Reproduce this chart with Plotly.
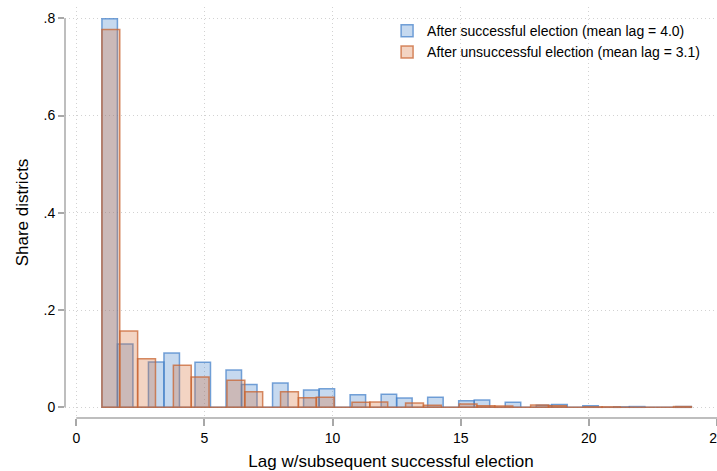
import numpy as np
import plotly.graph_objects as go

# ---- data ----
lags = list(range(1, 25))  # lag in years, 1..24
# histogram density heights for each lag value
dens_success = [0.799, 0.130, 0.093, 0.1116, 0.0925, 0.0767, 0.047, 0.050,
                0.0356, 0.038, 0.026, 0.0267, 0.019, 0.0205, 0.0136, 0.015,
                0.0103, 0.004, 0.006, 0.0033, 0.001, 0.0015, 0.0, 0.0015]
dens_unsuccess = [0.777, 0.157, 0.100, 0.0863, 0.0623, 0.0555, 0.032, 0.032,
                  0.0198, 0.0205, 0.0103, 0.011, 0.0088, 0.004, 0.0068, 0.0033,
                  0.0027, 0.0047, 0.0033, 0.001, 0.001, 0.0, 0.0, 0.0015]
nbins_success = 38
nbins_unsuccess = 33
name_success = "After successful election (mean lag = 4.0)"
name_unsuccess = "After unsuccessful election (mean lag = 3.1)"
x_ticks = [0, 5, 10, 15, 20, 25]
x_ticktext = ["0", "5", "10", "15", "20", "25"]
y_ticks = [0, 0.2, 0.4, 0.6, 0.8]
y_ticktext = ["0", ".2", ".4", ".6", ".8"]


def bins(values, dens, nb):
    lo, hi = min(values), max(values)
    w = (hi - lo) / nb
    h = np.zeros(nb)
    for v, d in zip(values, dens):
        k = min(int(np.floor((v - lo) / w + 1e-9)), nb - 1)
        h[k] = max(h[k], d)
    centers = lo + (np.arange(nb) + 0.5) * w
    return centers, h, w


FONT = "Helvetica, Liberation Sans, Arial, sans-serif"

cs, hs, ws = bins(lags, dens_success, nbins_success)
cu, hu, wu = bins(lags, dens_unsuccess, nbins_unsuccess)

fig = go.Figure()
fig.add_trace(go.Bar(
    x=cs, y=hs, width=ws, name=name_success,
    marker=dict(color="rgba(67,128,201,0.30)",
                line=dict(color="rgba(67,128,201,0.72)", width=1.5)),
))
fig.add_trace(go.Bar(
    x=cu, y=hu, width=wu, name=name_unsuccess,
    marker=dict(color="rgba(214,112,56,0.30)",
                line=dict(color="rgba(200,100,50,0.75)", width=1.5)),
))

AX = "#a8a8a8"
GRID = "#d2d2d2"
fig.update_layout(
    width=717, height=471,
    margin=dict(l=65, r=0, t=7, b=53),
    plot_bgcolor="white", paper_bgcolor="white",
    barmode="overlay",
    font=dict(family=FONT, size=14, color="black"),
    showlegend=True,
    legend=dict(x=0.494, y=0.98, xanchor="left", yanchor="top",
                bgcolor="rgba(0,0,0,0)", font=dict(size=14)),
    xaxis=dict(range=[-0.44, 25.0], tickvals=x_ticks, ticktext=x_ticktext,
               ticks="outside", ticklen=7, tickwidth=1.5, tickcolor=AX,
               showline=False, zeroline=False, automargin=False,
               showgrid=True, gridcolor=GRID, griddash="1px,3px", gridwidth=1,
               ticklabeloverflow="allow",
               title=dict(text="Lag w/subsequent successful election",
                          font=dict(size=17), standoff=10)),
    yaxis=dict(range=[-0.022, 0.8232], tickvals=y_ticks, ticktext=y_ticktext,
               ticks="outside", ticklen=6, tickwidth=1.5, tickcolor=AX,
               showline=False, zeroline=False, automargin=False,
               showgrid=True, gridcolor=GRID, griddash="1px,3px", gridwidth=1,
               title=dict(text="Share districts", font=dict(size=17), standoff=10)),
    shapes=[
        dict(type="line", xref="x", yref="paper", x0=0, x1=25, y0=0, y1=0,
             line=dict(color=AX, width=1.5)),
        dict(type="line", xref="paper", yref="y", x0=0, x1=0, y0=0, y1=0.8,
             line=dict(color=AX, width=1.5)),
    ],
)

fig.write_html("out.html",
               config={"displayModeBar": False},
               post_script="document.body.style.margin='0px';"
                           "document.body.style.overflow='hidden';")
